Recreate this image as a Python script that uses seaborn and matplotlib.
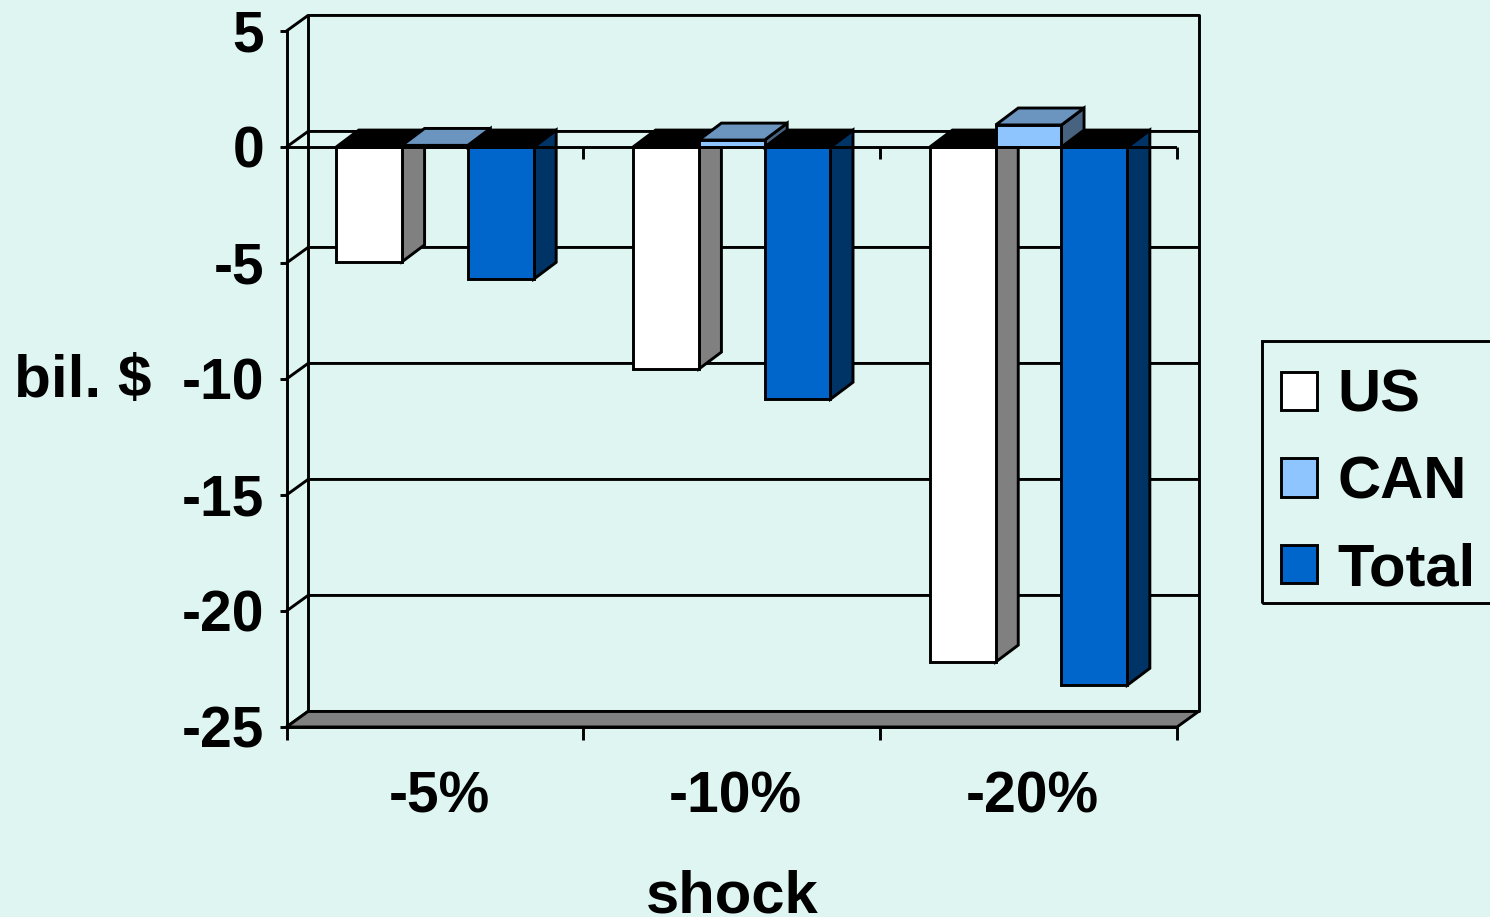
import matplotlib
matplotlib.use("Agg")
import matplotlib.pyplot as plt
from matplotlib.colors import to_rgb
from matplotlib.patches import Polygon, Rectangle
from matplotlib.transforms import ScaledTranslation
import pandas as pd
import seaborn as sns

# Values
shocks = ["-5%", "-10%", "-20%"]
us = [-4.95, -9.57, -22.2]
can = [0.07, 0.3, 0.95]
total = [-5.7, -10.87, -23.2]
series_names = ["US", "CAN", "Total"]
series_colors = ["#FFFFFF", "#8FC5FF", "#0066CC"]
y_ticks = [5, 0, -5, -10, -15, -20, -25]

BG = "#DEF5F1"
LW = 2.1
# fake 3D depth in data units
WALL_DX, WALL_DY = 0.0725, 0.67
BAR_DX, BAR_DY = 0.076, 0.73

sns.set_theme(style="white")
plt.rcParams["font.family"] = ["Liberation Sans", "DejaVu Sans"]
plt.rcParams["font.weight"] = "bold"
plt.rcParams["text.color"] = "black"

df = pd.DataFrame({
    "shock": shocks * 3,
    "series": [name for name in series_names for _ in shocks],
    "value": us + can + total,
})

fig = plt.figure(figsize=(14.9, 9.17), dpi=100, facecolor=BG)
ax = fig.add_axes([286.5 / 1490, 1 - 727 / 917, 890.5 / 1490, 696 / 917])
ax.patch.set_alpha(0)

sns.barplot(
    data=df, x="shock", y="value", hue="series", order=shocks, hue_order=series_names,
    palette=series_colors, saturation=1, width=0.665, gap=0, errorbar=None,
    edgecolor="black", linewidth=LW, zorder=5, ax=ax,
)

ax.set_xlim(-0.5, 2.5)
ax.set_ylim(-25, 5)
ax.set_yticks(y_ticks)


def shade(color, k):
    return tuple(c * k for c in to_rgb(color))


# Walls and gridlines behind the bars
x0, x1 = ax.get_xlim()
for y in y_ticks:
    ax.plot([x0, x0 + WALL_DX, x1 + WALL_DX], [y, y + WALL_DY, y + WALL_DY],
            color="black", lw=LW, clip_on=False, zorder=1)
for x in [x0 + WALL_DX, x1 + WALL_DX]:
    ax.plot([x, x], [-25 + WALL_DY, 5 + WALL_DY], color="black", lw=LW, clip_on=False, zorder=1)
ax.add_patch(Polygon([(x0, -25), (x1, -25), (x1 + WALL_DX, -25 + WALL_DY), (x0 + WALL_DX, -25 + WALL_DY)],
                     facecolor="#808080", edgecolor="black", lw=LW, clip_on=False, zorder=2))

# Side and top faces of every bar
for container, color in zip(ax.containers, series_colors):
    for bar in container:
        left = bar.get_x()
        right = left + bar.get_width()
        value = bar.get_height()
        top = max(value, 0)
        bottom = min(value, 0)
        up = value > 0
        ax.add_patch(Polygon(
            [(right, bottom), (right + BAR_DX, bottom + BAR_DY), (right + BAR_DX, top + BAR_DY), (right, top)],
            facecolor=shade(color, 0.5), edgecolor="black", lw=LW, clip_on=False, zorder=4.5 if up else 3))
        ax.add_patch(Polygon(
            [(left, top), (right, top), (right + BAR_DX, top + BAR_DY), (left + BAR_DX, top + BAR_DY)],
            facecolor=shade(color, 0.75) if up else "black", edgecolor="black", lw=LW, clip_on=False,
            zorder=4.5 if up else 3))
    # CAN front faces sit above the black tops of their neighbours
    for bar in container:
        if bar.get_height() > 0:
            bar.set_zorder(6)

# Zero line with its ticks
bounds = [x0, x0 + 1, x0 + 2, x1]
ax.axhline(0, color="black", lw=LW, zorder=7)
ax.vlines(bounds, -0.5, 0, color="black", lw=LW, clip_on=False, zorder=7)

for name in ["top", "right"]:
    ax.spines[name].set_visible(False)
for name in ["left", "bottom"]:
    ax.spines[name].set_color("black")
    ax.spines[name].set_linewidth(LW)
    ax.spines[name].set_zorder(3)

ax.set_xticks(bounds, minor=True)
ax.tick_params(axis="x", which="major", length=0, pad=31, labelsize=41)
ax.tick_params(axis="x", which="minor", bottom=True, length=9, width=LW, color="black")
ax.tick_params(axis="y", left=True, length=5, width=LW, color="black", pad=11, labelsize=41)
ax.set_yticklabels([str(t) for t in y_ticks])

ax.set_xlabel("shock", fontsize=43, fontweight="bold", color="black")
ax.xaxis.set_label_coords(0.5, -0.205)
ax.set_ylabel("bil. $", fontsize=43.5, fontweight="bold", rotation=0, color="black", ha="center", va="center")
ax.yaxis.set_label_coords(-0.229, 0.496)
shift = ScaledTranslation(4 / 100, 0, fig.dpi_scale_trans)
for label in ax.get_xticklabels():
    label.set_color("black")
    label.set_transform(label.get_transform() + shift)
for label in ax.get_yticklabels():
    label.set_color("black")

legend = ax.legend(
    loc="upper left", bbox_to_anchor=(1281 / 1490, 1 - 369 / 917), bbox_transform=fig.transFigure,
    prop={"family": "Liberation Sans", "weight": "bold", "size": 43}, title=None,
    frameon=False, labelcolor="black",
    borderaxespad=0, borderpad=0, handlelength=0.61, handleheight=0.61,
    handletextpad=0.34, labelspacing=0.53,
)
legend.set_zorder(10)

# Legend box runs off the right edge of the figure
fig.add_artist(Rectangle((1262 / 1490, 1 - 603 / 917), 240 / 1490, 262 / 917, transform=fig.transFigure,
                         facecolor="none", edgecolor="black", lw=LW))

fig.savefig("out.png", dpi=100, facecolor=BG)
